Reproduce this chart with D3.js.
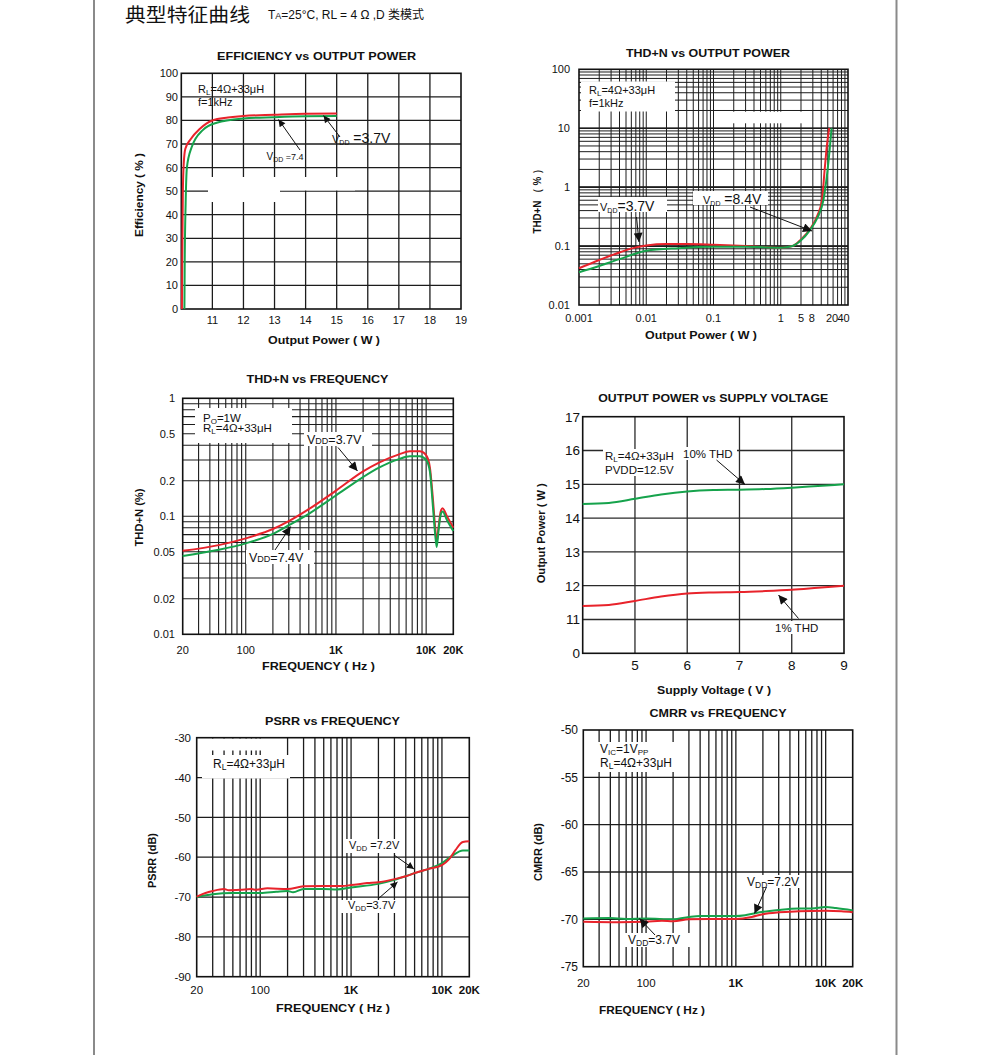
<!DOCTYPE html>
<html><head><meta charset="utf-8">
<script src="https://cdn.jsdelivr.net/npm/d3@7"></script>
<style>
body{margin:0;background:#fff}
svg{display:block}
text{font-family:"Liberation Sans",Arial,Helvetica,sans-serif;fill:#111}
</style>
</head><body>
<svg id="c" width="991" height="1055"></svg>
<script>
// ---------------- DATA ----------------
// 1. Efficiency vs Output Power  [W, %]
const effXTicks = [11,12,13,14,15,16,17,18,19];
const effYTicks = [0,10,20,30,40,50,60,70,80,90,100];
const effRed = [[10.02,0],[10.03,20],[10.05,50],[10.08,62],[10.13,68],[10.3,72],[10.6,76.5],[11.0,80],[11.5,81.2],[12,81.9],[13,82.4],[14,82.8],[15,82.9]];
const effGreen = [[10.1,0],[10.11,20],[10.14,45],[10.18,60],[10.33,68.5],[10.7,76],[11.14,79],[12,80.8],[13,81.4],[14,81.8],[15,81.9]];

// 2. THD+N vs Output Power [W, %]
const thdPXTickVals = [0.001,0.01,0.1,1,2,2.9,5.8,8.6];
const thdPXTickLabels = ["0.001","0.01","0.1","1","5","8","20","40"];
const thdPYTicks = [0.01,0.1,1,10,100];
const thdPRed = [[0.001,0.042],[0.002,0.058],[0.004,0.078],[0.007,0.095],[0.01,0.102],[0.02,0.108],[0.04,0.108],[0.1,0.105],[0.3,0.1],[1,0.094],[1.5,0.1],[2,0.13],[2.7,0.19],[3.5,0.33],[4.1,0.6],[4.5,2],[4.85,5],[5.25,10]];
const thdPGreen = [[0.001,0.036],[0.002,0.046],[0.004,0.06],[0.01,0.083],[0.03,0.092],[0.1,0.097],[0.3,0.097],[1,0.094],[1.5,0.1],[2,0.125],[2.7,0.185],[3.5,0.3],[4.3,0.6],[4.9,1.7],[5.3,4],[5.7,10]];

// 3. THD+N vs Frequency [Hz, %]
const freqTickVals = [20,100,1000,10000,20000];
const freqTickLabels = ["20","100","1K","10K","20K"];
const thdFYTicks = [0.01,0.02,0.05,0.1,0.2,0.5,1];
const thdFRed = [[20,0.051],[50,0.057],[100,0.065],[200,0.078],[300,0.091],[500,0.115],[1000,0.165],[2000,0.24],[3000,0.285],[5000,0.335],[6600,0.355],[8500,0.355],[10000,0.33],[11000,0.26],[11800,0.15],[12600,0.08],[13100,0.06],[13700,0.08],[14500,0.11],[15200,0.117],[17000,0.1],[20000,0.08]];
const thdFGreen = [[20,0.046],[50,0.052],[100,0.059],[200,0.071],[300,0.084],[500,0.105],[1000,0.15],[2000,0.215],[3000,0.258],[5000,0.305],[6600,0.322],[8500,0.322],[10000,0.3],[11000,0.24],[11800,0.13],[12600,0.07],[13100,0.055],[13700,0.075],[14500,0.103],[15200,0.11],[17000,0.093],[20000,0.075]];

// 4. Output Power vs Supply Voltage [V, W]  (axis broken: bottom tick labelled 0)
const powXTicks = [5,6,7,8,9];
const powYTickVals = [10,11,12,13,14,15,16,17];
const powYTickLabels = ["0","11","12","13","14","15","16","17"];
const pow10 = [[4,14.42],[4.5,14.45],[5,14.57],[5.5,14.7],[6,14.79],[6.5,14.83],[7,14.84],[7.5,14.86],[8,14.9],[8.5,14.95],[9,15.0]];
const pow1 = [[4,11.4],[4.5,11.43],[5,11.55],[5.5,11.68],[6,11.77],[6.5,11.8],[7,11.81],[7.5,11.84],[8,11.88],[8.5,11.94],[9,12.0]];

// 5. PSRR vs Frequency [Hz, dB]
const psrrYTicks = [-90,-80,-70,-60,-50,-40,-30];
const psrrRed = [[20,-69.9],[25,-69],[30,-68.5],[40,-68],[45,-68.3],[60,-68.2],[80,-68],[90,-68.2],[120,-67.8],[200,-68],[300,-67.3],[500,-67.2],[800,-67.2],[1000,-67],[1500,-66.5],[2000,-66.3],[3000,-65.5],[4000,-64.8],[5000,-64],[7000,-63],[10000,-62],[12000,-60.5],[14000,-58.3],[17000,-56.2],[20000,-56]];
const psrrGreen = [[20,-70],[30,-69.3],[50,-69],[100,-69],[150,-68.7],[200,-68.5],[230,-68.8],[300,-68],[500,-68],[700,-68.1],[1000,-67.6],[2000,-66.7],[3000,-65.7],[5000,-64],[7000,-63],[10000,-61.5],[13000,-59.6],[17000,-58.3],[20000,-58.3]];

// 6. CMRR vs Frequency [Hz, dB]
const cmrrYTicks = [-75,-70,-65,-60,-55,-50];
const cmrrGreen = [[20,-69.9],[40,-69.85],[60,-69.95],[100,-69.9],[200,-70.0],[300,-69.75],[400,-69.65],[1000,-69.65],[1300,-69.55],[2000,-69.2],[3000,-69.0],[5000,-68.85],[7000,-68.85],[10000,-68.7],[13000,-68.8],[20000,-69.05]];
const cmrrRed = [[20,-70.25],[50,-70.3],[100,-70.25],[150,-70.15],[200,-70.2],[300,-70.0],[500,-69.95],[1000,-69.95],[1500,-69.75],[2000,-69.45],[3000,-69.25],[5000,-69.15],[10000,-69.1],[15000,-69.15],[20000,-69.25]];

// ---------------- DRAWING ----------------
const RED = '#e8232b', GREEN = '#16a34c', GRID = '#1c1c1c';
const svg = d3.select('#c');
const defs = svg.append('defs');
defs.append('marker').attr('id','ah').attr('viewBox','0 0 10 10').attr('refX',10).attr('refY',5)
  .attr('markerWidth',9).attr('markerHeight',7).attr('markerUnits','userSpaceOnUse').attr('orient','auto')
  .append('path').attr('d','M0,0L10,5L0,10z').attr('fill','#111');
defs.append('marker').attr('id','ahb').attr('viewBox','0 0 10 10').attr('refX',10).attr('refY',5)
  .attr('markerWidth',12).attr('markerHeight',9).attr('markerUnits','userSpaceOnUse').attr('orient','auto')
  .append('path').attr('d','M0,0L10,5L0,10z').attr('fill','#111');

// page frame and header
svg.append('line').attr('x1',94).attr('x2',94).attr('y1',0).attr('y2',1055).attr('stroke','#8a8a8a').attr('stroke-width',2);
svg.append('line').attr('x1',896.5).attr('x2',896.5).attr('y1',0).attr('y2',1055).attr('stroke','#8a8a8a').attr('stroke-width',2);
svg.append('text').attr('x',125).attr('y',22).attr('font-size',19)
  .style('font-family','"Noto Sans CJK SC",sans-serif').attr('textLength',125).attr('lengthAdjust','spacingAndGlyphs').text('典型特征曲线');
(function(){
  const t = svg.append('text').attr('x',268).attr('y',19).attr('font-size',12);
  t.append('tspan').text('T');
  t.append('tspan').attr('font-size',9).text('A');
  t.append('tspan').text('=25°C, RL = 4 Ω ,D ');
  t.append('tspan').style('font-family','"Noto Sans CJK SC",sans-serif').text('类模式');
})();

function vgrid(g, xs, vals, y0, y1, w, col){
  g.selectAll(null).data(vals).enter().append('line')
    .attr('x1',d=>xs(d)).attr('x2',d=>xs(d)).attr('y1',y0).attr('y2',y1)
    .attr('stroke',col||GRID).attr('stroke-width',w||1.2);
}
function hgrid(g, ys, vals, x0, x1, w, col){
  g.selectAll(null).data(vals).enter().append('line')
    .attr('y1',d=>ys(d)).attr('y2',d=>ys(d)).attr('x1',x0).attr('x2',x1)
    .attr('stroke',col||GRID).attr('stroke-width',w||1.2);
}
function frame(g, xs, ys){
  const [a,b] = xs.range(), [c,d] = ys.range();
  g.append('rect').attr('x',a).attr('y',d).attr('width',b-a).attr('height',c-d)
    .attr('fill','none').attr('stroke','#111').attr('stroke-width',1.6);
}
function mask(g, x, y, w, h){
  g.append('rect').attr('x',x).attr('y',y).attr('width',w).attr('height',h).attr('fill','#fff');
}
function yLabels(g, ys, vals, labels, x, size, bold){
  g.selectAll(null).data(vals).enter().append('text')
    .attr('x',x).attr('y',d=>ys(d)+size*0.36).attr('text-anchor','end').attr('font-size',size)
    .attr('font-weight',bold?'bold':null)
    .text((d,i)=>labels?labels[i]:d);
}
function xLabels(g, xs, vals, labels, y, size, boldFn){
  g.selectAll(null).data(vals).enter().append('text')
    .attr('x',d=>xs(d)).attr('y',y).attr('text-anchor','middle').attr('font-size',size)
    .attr('font-weight',(d,i)=>boldFn&&boldFn(d,i)?'bold':null)
    .text((d,i)=>labels?labels[i]:d);
}
function title(g, txt, cx, y, w){
  g.append('text').attr('x',cx).attr('y',y).attr('text-anchor','middle').attr('font-size',11)
    .attr('font-weight','bold').attr('textLength',w).attr('lengthAdjust','spacingAndGlyphs').text(txt);
}
function ytitle(g, txt, x, cy, w){
  g.append('text').attr('transform',`translate(${x},${cy}) rotate(-90)`).attr('text-anchor','middle')
    .attr('font-size',11).attr('font-weight','bold').attr('textLength',w).attr('lengthAdjust','spacingAndGlyphs')
    .attr('dy','0.35em').text(txt);
}
function curve(g, xs, ys, data, col){
  g.append('path').datum(data).attr('fill','none').attr('stroke',col).attr('stroke-width',2)
    .attr('stroke-linejoin','round')
    .attr('d', d3.line().x(d=>xs(d[0])).y(d=>ys(d[1])).curve(d3.curveMonotoneX));
}
// rich text: parts = [[text,size,sub?]]
function rich(g, x, y, parts){
  const t = g.append('text').attr('x',x).attr('y',y);
  let prevSub = false;
  parts.forEach(([s,size,sub])=>{
    const sp = t.append('tspan').attr('font-size',size).text(s);
    if(sub && !prevSub) sp.attr('dy',2);
    if(!sub && prevSub) sp.attr('dy',-2);
    prevSub = !!sub;
  });
  return t;
}
function arrow(g, x1,y1,x2,y2, big){
  g.append('line').attr('x1',x1).attr('y1',y1).attr('x2',x2).attr('y2',y2)
    .attr('stroke','#111').attr('stroke-width',1).attr('marker-end',big?'url(#ahb)':'url(#ah)');
}
function logMinors(domain){
  const out=[];
  let p = Math.pow(10, Math.floor(Math.log10(domain[0])));
  for(; p<=domain[1]; p*=10){
    for(let k=1;k<10;k++){ const v = +(k*p).toPrecision(6); if(v>domain[0] && v<domain[1]) out.push(v); }
  }
  return out;
}

// ===== Panel 1: Efficiency =====
{
  const g = svg.append('g');
  const xs = d3.scaleLinear().domain([10,19]).range([181.3,461]);
  const ys = d3.scaleLinear().domain([0,100]).range([309,73.3]);
  vgrid(g, xs, effXTicks.slice(0,-1), ys(100), ys(0), 1.3);
  hgrid(g, ys, effYTicks.slice(1,-1), xs(10), xs(19), 1.3);
  mask(g, 208, 177, 72, 25);
  mask(g, 280, 177, 75, 13.5);
  frame(g, xs, ys);
  yLabels(g, ys, effYTicks, null, 178, 11);
  xLabels(g, xs, effXTicks, null, 324, 11);
  title(g, 'EFFICIENCY vs OUTPUT POWER', 316.5, 60, 199);
  g.append('text').attr('x',324).attr('y',344).attr('text-anchor','middle').attr('font-size',11).attr('font-weight','bold')
    .attr('textLength',112).attr('lengthAdjust','spacingAndGlyphs').text('Output Power ( W )');
  ytitle(g, 'Efficiency ( % )', 139, 195, 84);
  curve(g, xs, ys, effRed, RED);
  curve(g, xs, ys, effGreen, GREEN);
  rich(g, 198, 93, [['R',11],['L',8,1],['=4Ω+33μH',11]]);
  rich(g, 198, 105.5, [['f=1kHz',11]]);
  rich(g, 266.5, 160, [['V',10],['DD',7,1],[' =7.4',9]]);
  arrow(g, 300, 150, 278.5, 119.5);
  rich(g, 332, 143, [['V',11],['DD',7,1],[' =3.7V',14]]);
  arrow(g, 340, 137, 323.5, 115.5);
}

// ===== Panel 2: THD+N vs Output Power =====
{
  const g = svg.append('g');
  const xs = d3.scaleLog().domain([0.001,10]).range([579,848]);
  const ys = d3.scaleLog().domain([0.01,100]).range([305,69.3]);
  vgrid(g, xs, logMinors([0.001,10]), ys(100), ys(0.01), 1);
  hgrid(g, ys, logMinors([0.01,100]), xs(0.001), xs(10), 1);
  hgrid(g, ys, [0.1,1,10], xs(0.001), xs(10), 1.6);
  mask(g, 581, 81.5, 94, 30);
  mask(g, 730, 111.7, 80, 11.6);
  mask(g, 598, 197, 69, 15);
  mask(g, 693, 191, 75, 14);
  frame(g, xs, ys);
  yLabels(g, ys, thdPYTicks, null, 570, 11);
  xLabels(g, xs, thdPXTickVals, thdPXTickLabels, 322, 11);
  title(g, 'THD+N vs OUTPUT POWER', 708, 57, 164);
  g.append('text').attr('x',701).attr('y',339).attr('text-anchor','middle').attr('font-size',11).attr('font-weight','bold')
    .attr('textLength',112).attr('lengthAdjust','spacingAndGlyphs').text('Output Power ( W )');
  ytitle(g, 'THD+N （ % ）', 537, 199, 69);
  curve(g, xs, ys, thdPRed, RED);
  curve(g, xs, ys, thdPGreen, GREEN);
  rich(g, 589, 94, [['R',11],['L',8,1],['=4Ω+33μH',11]]);
  rich(g, 589, 106.5, [['f=1kHz',11]]);
  rich(g, 600, 211, [['V',11],['DD',7,1],['=3.7V',14]]);
  arrow(g, 636.5, 217, 639, 242, true);
  rich(g, 703, 204, [['V',11],['DD',7,1],[' =8.4V',14]]);
  arrow(g, 750, 207, 812, 231, true);
}

// ===== Panel 3: THD+N vs Frequency =====
{
  const g = svg.append('g');
  const xs = d3.scaleLog().domain([20,20000]).range([182.7,453.3]);
  const ys = d3.scaleLog().domain([0.01,1]).range([634.3,398.3]);
  vgrid(g, xs, logMinors([20,20000]), ys(1), ys(0.01), 1.1);
  hgrid(g, ys, logMinors([0.01,1]), xs(20), xs(20000), 1.1);
  mask(g, 195, 408, 97, 35);
  mask(g, 304, 432, 68, 14);
  mask(g, 246, 550, 68, 14);
  frame(g, xs, ys);
  yLabels(g, ys, thdFYTicks, null, 175, 11);
  xLabels(g, xs, freqTickVals, freqTickLabels, 654, 11, d=>d>=1000);
  title(g, 'THD+N vs FREQUENCY', 317.5, 383, 142);
  g.append('text').attr('x',318.5).attr('y',670).attr('text-anchor','middle').attr('font-size',11).attr('font-weight','bold')
    .attr('textLength',113).attr('lengthAdjust','spacingAndGlyphs').text('FREQUENCY ( Hz )');
  ytitle(g, 'THD+N (%)', 139, 517.5, 58);
  curve(g, xs, ys, thdFRed, RED);
  curve(g, xs, ys, thdFGreen, GREEN);
  rich(g, 203, 421.5, [['P',11.5],['O',8,1],['=1W',11.5]]);
  rich(g, 203, 432, [['R',11.5],['L',8,1],['=4Ω+33μH',11.5]]);
  rich(g, 307, 444, [['V',12.5],['DD',9],['=3.7V',12.5]]);
  arrow(g, 338, 447.5, 357.5, 471, true);
  rich(g, 249, 562, [['V',12.5],['DD',9],['=7.4V',12.5]]);
  arrow(g, 275, 550, 290.7, 526.5, true);
}

// ===== Panel 4: Output Power vs Supply Voltage =====
{
  const g = svg.append('g');
  const xs = d3.scaleLinear().domain([4,9]).range([582.7,844]);
  const ys = d3.scaleLinear().domain([10,17]).range([653.3,416.7]);
  vgrid(g, xs, powXTicks.slice(0,-1), ys(17), ys(10), 1.3, '#2a2a2a');
  hgrid(g, ys, powYTickVals.slice(1,-1), xs(4), xs(9), 1.3, '#2a2a2a');
  mask(g, 603, 449, 78, 27);
  mask(g, 681, 447, 56, 13);
  mask(g, 772, 621, 53, 13);
  frame(g, xs, ys);
  yLabels(g, ys, powYTickVals, powYTickLabels, 580, 13.5);
  xLabels(g, xs, powXTicks, null, 670, 13.5);
  title(g, 'OUTPUT POWER vs SUPPLY VOLTAGE', 713.3, 402, 230);
  g.append('text').attr('x',714).attr('y',694).attr('text-anchor','middle').attr('font-size',11).attr('font-weight','bold')
    .attr('textLength',114).attr('lengthAdjust','spacingAndGlyphs').text('Supply Voltage ( V )');
  ytitle(g, 'Output Power ( W )', 541, 533.3, 100);
  curve(g, xs, ys, pow10, GREEN);
  curve(g, xs, ys, pow1, RED);
  rich(g, 605, 460, [['R',11.5],['L',8,1],['=4Ω+33μH',11.5]]);
  rich(g, 683, 458, [['10% THD',11.5]]);
  rich(g, 605, 474, [['PVDD=12.5V',11.5]]);
  arrow(g, 716.5, 460, 745, 484.5, true);
  rich(g, 775, 632, [['1% THD',11.5]]);
  arrow(g, 798.5, 618.5, 778.5, 595, true);
}

// ===== Panel 5: PSRR vs Frequency =====
{
  const g = svg.append('g');
  const xs = d3.scaleLog().domain([20,20000]).range([196.7,469.3]);
  const ys = d3.scaleLinear().domain([-90,-30]).range([976.7,737.7]);
  vgrid(g, xs, logMinors([20,20000]), ys(-30), ys(-90), 1.3);
  hgrid(g, ys, psrrYTicks.slice(1,-1), xs(20), xs(20000), 1.3);
  mask(g, 200, 738.5, 63, 12);
  mask(g, 202, 755, 88, 23.5);
  mask(g, 343, 839, 62, 14);
  mask(g, 340, 900, 59, 13);
  frame(g, xs, ys);
  yLabels(g, ys, psrrYTicks, null, 191, 11.5);
  xLabels(g, xs, freqTickVals, freqTickLabels, 994, 11.5, d=>d>=1000);
  title(g, 'PSRR vs FREQUENCY', 332.5, 725, 135);
  g.append('text').attr('x',333).attr('y',1012).attr('text-anchor','middle').attr('font-size',11).attr('font-weight','bold')
    .attr('textLength',114).attr('lengthAdjust','spacingAndGlyphs').text('FREQUENCY ( Hz )');
  ytitle(g, 'PSRR (dB)', 152, 860.5, 55);
  curve(g, xs, ys, psrrGreen, GREEN);
  curve(g, xs, ys, psrrRed, RED);
  rich(g, 213, 768, [['R',12],['L',8.5,1],['=4Ω+33μH',12]]);
  rich(g, 349, 849, [['V',11],['DD',7.5,1],[' =7.2V',11]]);
  arrow(g, 394, 855, 414, 869);
  rich(g, 348, 909, [['V',11],['DD',7.5,1],['=3.7V',11]]);
  arrow(g, 378.5, 898.5, 397.5, 882);
}

// ===== Panel 6: CMRR vs Frequency =====
{
  const g = svg.append('g');
  const xs = d3.scaleLog().domain([20,20000]).range([583.3,852.7]);
  const ys = d3.scaleLinear().domain([-75,-50]).range([966.7,730]);
  vgrid(g, xs, logMinors([20,20000]), ys(-50), ys(-75), 1.3);
  hgrid(g, ys, cmrrYTicks.slice(1,-1), xs(20), xs(20000), 1.3);
  mask(g, 592, 742, 85, 30);
  mask(g, 743, 875, 62, 13);
  mask(g, 625, 933, 68, 14);
  frame(g, xs, ys);
  yLabels(g, ys, cmrrYTicks, null, 578, 12);
  xLabels(g, xs, freqTickVals, freqTickLabels, 987, 11.5, d=>d>=1000);
  title(g, 'CMRR vs FREQUENCY', 718, 717, 137);
  g.append('text').attr('x',652).attr('y',1014).attr('text-anchor','middle').attr('font-size',11).attr('font-weight','bold')
    .attr('textLength',106).attr('lengthAdjust','spacingAndGlyphs').text('FREQUENCY ( Hz )');
  ytitle(g, 'CMRR (dB)', 538, 852, 58);
  curve(g, xs, ys, cmrrGreen, GREEN);
  curve(g, xs, ys, cmrrRed, RED);
  rich(g, 600, 753, [['V',12],['IC',8,1],['=1V',12],['PP',8,1]]);
  rich(g, 600, 767, [['R',12],['L',8.5,1],['=4Ω+33μH',12]]);
  rich(g, 747, 886, [['V',12],['DD',8.5,1],['=7.2V',12]]);
  arrow(g, 766.5, 887, 754.5, 913.5, true);
  rich(g, 628, 944, [['V',12],['DD',8.5,1],['=3.7V',12]]);
  arrow(g, 655, 935, 639.5, 918.5, true);
}
</script>
</body></html>
